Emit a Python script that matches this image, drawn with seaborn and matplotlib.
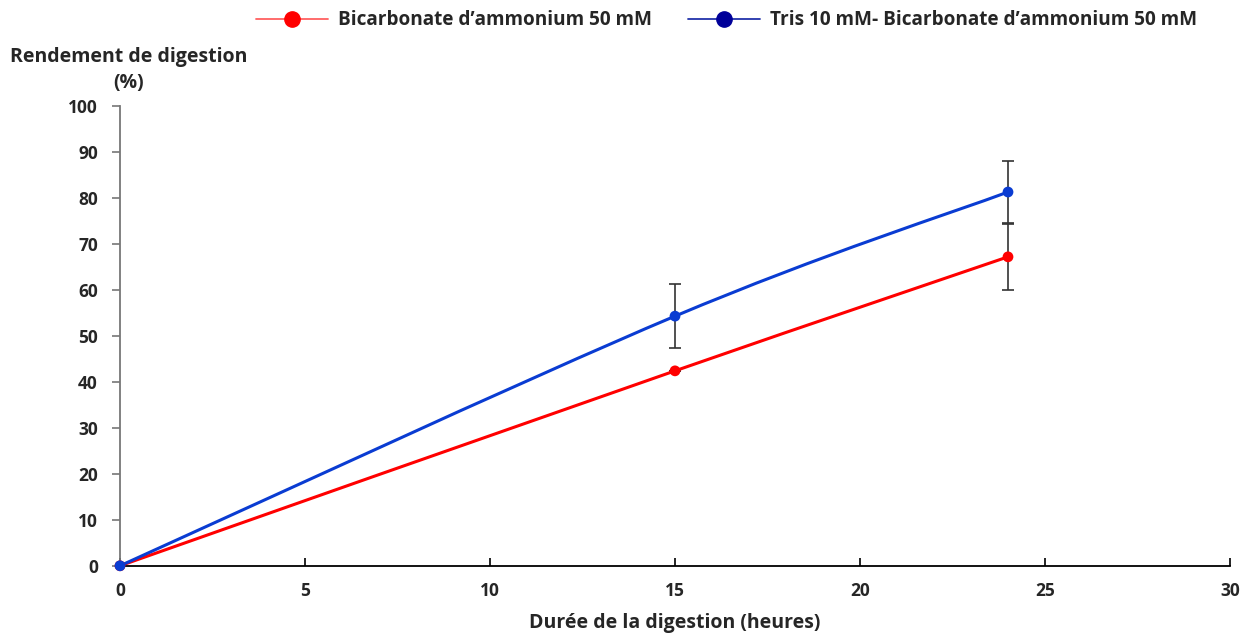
import numpy as np
import pandas as pd
import matplotlib
matplotlib.use("Agg")
import matplotlib.pyplot as plt
import seaborn as sns
from matplotlib.path import Path
from matplotlib.patches import PathPatch
from matplotlib.lines import Line2D

# Données
heures = [0, 15, 24]
bicarb = [0, 42.4, 67.2]
bicarb_err = [0, 0, 7.2]
tris = [0, 54.3, 81.3]
tris_err = [0, 7.0, 6.7]

sns.set_style("white")
plt.rcParams['font.family'] = ['Open Sans', 'DejaVu Sans']
plt.rcParams['font.weight'] = 'bold'

fig = plt.figure(figsize=(12.5, 6.35), dpi=100)
ax = fig.add_axes([0.096, 0.109, 0.888, 0.724])


def courbe_lissee(x, y):
    # courbe lissée type Excel (Bezier cubique)
    pts = np.column_stack([x, y]).astype(float)
    p = np.vstack([pts[0], pts, pts[-1]])
    verts = [tuple(pts[0])]
    codes = [Path.MOVETO]
    for i in range(1, len(p) - 2):
        c1 = p[i] + (p[i + 1] - p[i - 1]) / 6
        c2 = p[i + 1] - (p[i + 2] - p[i]) / 6
        verts += [tuple(c1), tuple(c2), tuple(p[i + 1])]
        codes += [Path.CURVE4] * 3
    return Path(verts, codes)


rouge = '#FF0000'
bleu = '#0A3CD2'

for y, err, col in [(bicarb, bicarb_err, rouge), (tris, tris_err, bleu)]:
    ax.add_patch(PathPatch(courbe_lissee(heures, y), facecolor='none',
                           edgecolor=col, lw=2.2, zorder=3, clip_on=False))
    ax.errorbar(heures, y, yerr=err, fmt='none', ecolor='#333333',
                elinewidth=1.2, capsize=4, capthick=1.2, zorder=2)
    df = pd.DataFrame({'x': heures, 'y': y})
    sns.scatterplot(data=df, x='x', y='y', color=col, s=60, edgecolor='none',
                    ax=ax, zorder=4, clip_on=False, legend=False)

ax.set_xlim(0, 30)
ax.set_ylim(0, 100)
ax.set_xticks(range(0, 31, 5))
ax.set_yticks(range(0, 101, 10))
ax.tick_params(axis='both', labelsize=12.5)
ax.tick_params(axis='y', left=True, direction='out', length=6, width=1.2,
               color='#777777', pad=10)
ax.tick_params(axis='x', bottom=True, direction='in', length=6, width=1.2,
               color='black', pad=12)
for lab in ax.get_xticklabels() + ax.get_yticklabels():
    lab.set_fontweight('bold')

ax.spines['top'].set_visible(False)
ax.spines['right'].set_visible(False)
ax.spines['left'].set_color('#777777')
ax.spines['left'].set_linewidth(1.3)
ax.spines['bottom'].set_color('black')
ax.spines['bottom'].set_linewidth(1.3)

ax.set_xlabel('Durée de la digestion (heures)', fontsize=14, fontweight='bold', labelpad=9)
ax.set_ylabel('')
fig.text(0.103, 0.889, 'Rendement de digestion\n(%)', ha='center', va='center',
         fontsize=14, fontweight='bold', linespacing=1.4)

handles = [
    Line2D([0], [0], color='#FF6060', lw=1.3, marker='o', markersize=11,
           markerfacecolor=rouge, markeredgecolor=rouge),
    Line2D([0], [0], color='#2233AA', lw=1.3, marker='o', markersize=11,
           markerfacecolor='#000099', markeredgecolor='#000099'),
]
fig.legend(handles, ['Bicarbonate d’ammonium 50 mM', 'Tris 10 mM- Bicarbonate d’ammonium 50 mM'],
           loc='center', bbox_to_anchor=(0.581, 0.968), ncol=2, frameon=False,
           prop={'size': 13.7, 'weight': 'bold'}, handlelength=3.8, columnspacing=1.9,
           handletextpad=0.5)

fig.savefig('out.png', dpi=100)
